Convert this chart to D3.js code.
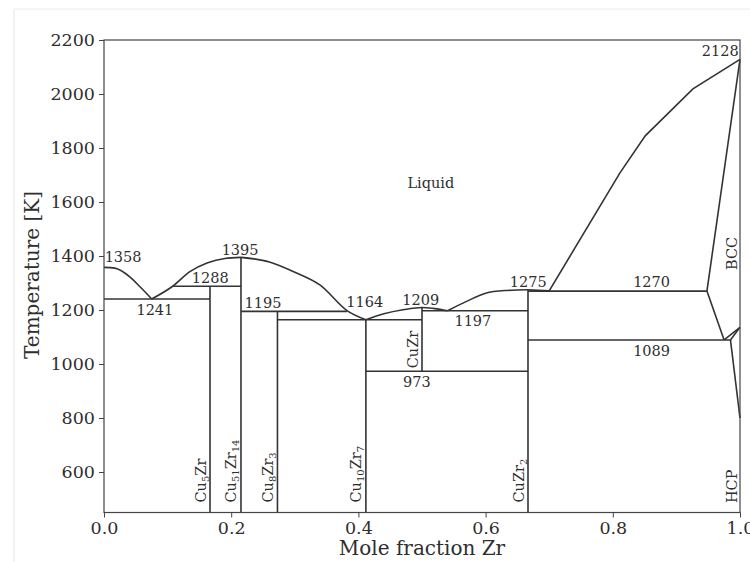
<!DOCTYPE html>
<html><head><meta charset="utf-8">
<script src="https://cdn.jsdelivr.net/npm/d3@7"></script>
<style>
html,body{margin:0;padding:0;background:#fff;}
svg{display:block;}
text{font-family:"DejaVu Serif",serif;fill:#2e2e2e;}
</style></head>
<body>
<svg id="chart" width="750" height="562"></svg>
<script>
// ---------------- data ----------------
const xTicks = [0.0, 0.2, 0.4, 0.6, 0.8, 1.0];
const yTicks = [600, 800, 1000, 1200, 1400, 1600, 1800, 2000, 2200];
const xDomain = [0, 1];
const yDomain = [450, 2200];

// liquidus branches [x, T]
const liquidusCu = [[0,1358],[0.017,1355],[0.041,1322],[0.057,1285],[0.075,1241]];
const liquidusCu51 = [[0.075,1241],[0.108,1288],[0.135,1342],[0.162,1374],[0.19,1391],[0.2154,1395]];
const liquidusDown = [[0.2154,1395],[0.26,1378],[0.30,1340],[0.34,1292],[0.382,1198],[0.4118,1164]];
const liquidusCuZr = [[0.4118,1164],[0.44,1186],[0.47,1201],[0.5,1209]];
const liquidusEut = [[0.5,1209],[0.52,1205],[0.54,1197]];
const liquidusCuZr2 = [[0.54,1197],[0.57,1232],[0.6,1262],[0.63,1272],[0.6667,1275]];
const liquidusZr = [[0.6667,1275],[0.70,1271],[0.811,1707],[0.851,1845],[0.926,2019],[1.0,2128]];

// compounds: composition, top temperature, name parts [text, isSub]
const compounds = [
  {name:"Cu5Zr",    x:1/6,   top:1288, bottom:450, parts:[["Cu",0],["5",1],["Zr",0]]},
  {name:"Cu51Zr14", x:14/65, top:1395, bottom:450, parts:[["Cu",0],["51",1],["Zr",0],["14",1]]},
  {name:"Cu8Zr3",   x:3/11,  top:1195, bottom:450, parts:[["Cu",0],["8",1],["Zr",0],["3",1]]},
  {name:"Cu10Zr7",  x:7/17,  top:1164, bottom:450, parts:[["Cu",0],["10",1],["Zr",0],["7",1]]},
  {name:"CuZr",     x:0.5,   top:1209, bottom:973, parts:[["CuZr",0]]},
  {name:"CuZr2",    x:2/3,   top:1275, bottom:450, parts:[["CuZr",0],["2",1]]}
];

// invariant (horizontal) lines
const invariants = [
  {T:1241, x0:0,     x1:1/6},
  {T:1288, x0:0.108, x1:14/65},
  {T:1195, x0:14/65, x1:0.382},
  {T:1164, x0:3/11,  x1:0.5},
  {T:1197, x0:0.5,   x1:2/3},
  {T:973,  x0:7/17,  x1:2/3},
  {T:1270, x0:2/3,   x1:0.948},
  {T:1089, x0:2/3,   x1:0.985}
];

// Zr-rich solid boundaries
const zrBoundaries = [
  [[0.948,1270],[1.0,2128]],
  [[0.948,1270],[0.975,1089]],
  [[0.975,1089],[1.0,1136]],
  [[0.985,1089],[1.0,1136]],
  [[0.985,1089],[1.0,800]]
];

// temperature annotations [label, x, T] (data coords, centre)
const tempLabels = [
  ["1358",0.030,1396],["1241",0.080,1202],["1288",0.167,1319],["1395",0.214,1422],
  ["1195",0.250,1226],["1164",0.410,1230],["1209",0.498,1237],["1197",0.580,1159],
  ["973",0.492,933],["1275",0.667,1304],["1270",0.861,1304],["1089",0.861,1048],
  ["2128",0.969,2159]
];
const phaseLabels = [["Liquid",0.514,1670]];
const sidePhases = [["BCC",1.0,1348],["HCP",1.0,485]];

// ---------------- drawing ----------------
const svg = d3.select("#chart");
const W = 750, H = 562;
const m = {left:104, right:10, top:40, bottom:49.5};
const x = d3.scaleLinear().domain(xDomain).range([m.left, W - m.right]);
const y = d3.scaleLinear().domain(yDomain).range([H - m.bottom, m.top]);

// faint screenshot frame
svg.append("line").attr("x1",14).attr("x2",14).attr("y1",9).attr("y2",H)
  .attr("stroke","#e4e4e4").attr("stroke-width",1);
svg.append("line").attr("x1",14).attr("x2",W).attr("y1",9).attr("y2",9)
  .attr("stroke","#ececec").attr("stroke-width",1);

const ink = "#333";
const g = svg.append("g");

const smooth = d3.line().x(d=>x(d[0])).y(d=>y(d[1])).curve(d3.curveMonotoneX);
const straight = d3.line().x(d=>x(d[0])).y(d=>y(d[1]));

[liquidusCu, liquidusCu51, liquidusDown, liquidusCuZr, liquidusEut, liquidusCuZr2].forEach(s=>{
  g.append("path").attr("d", smooth(s)).attr("fill","none").attr("stroke",ink).attr("stroke-width",1.6);
});
g.append("path").attr("d", straight(liquidusZr)).attr("fill","none").attr("stroke",ink).attr("stroke-width",1.6);

invariants.forEach(l=>{
  g.append("line").attr("x1",x(l.x0)).attr("x2",x(l.x1)).attr("y1",y(l.T)).attr("y2",y(l.T))
    .attr("stroke",ink).attr("stroke-width",1.6);
});
compounds.forEach(c=>{
  g.append("line").attr("x1",x(c.x)).attr("x2",x(c.x)).attr("y1",y(c.top)).attr("y2",y(c.bottom))
    .attr("stroke",ink).attr("stroke-width",1.6);
});
zrBoundaries.forEach(s=>{
  g.append("path").attr("d", straight(s)).attr("fill","none").attr("stroke",ink).attr("stroke-width",1.6);
});

// compound labels (rotated)
compounds.forEach(c=>{
  const bx = x(c.x) - 4.5;
  const by = (c.bottom > 450 ? y(c.bottom) - 3 : y(450) - 10);
  const t = g.append("text").attr("transform",`translate(${bx},${by}) rotate(-90)`)
    .attr("font-size",14.5).attr("text-anchor","start");
  let shifted = false;
  c.parts.forEach(p=>{
    const ts = t.append("tspan").text(p[0]);
    if (p[1]) { ts.attr("font-size",10).attr("dy", 3); shifted = true; }
    else if (shifted) { ts.attr("dy",-3); shifted = false; }
  });
});

// side phases
sidePhases.forEach(p=>{
  g.append("text").attr("transform",`translate(${x(p[1]) - 3},${y(p[2])}) rotate(-90)`)
    .attr("font-size",14.5).attr("text-anchor","start").text(p[0]);
});

tempLabels.forEach(l=>{
  g.append("text").attr("x",x(l[1])).attr("y",y(l[2])).attr("dy","0.36em")
    .attr("text-anchor","middle").attr("font-size",14.5).text(l[0]);
});
phaseLabels.forEach(l=>{
  g.append("text").attr("x",x(l[1])).attr("y",y(l[2])).attr("dy","0.36em")
    .attr("text-anchor","middle").attr("font-size",14.5).text(l[0]);
});

// frame
svg.append("rect").attr("x",m.left).attr("y",m.top)
  .attr("width",W - m.right - m.left).attr("height",H - m.bottom - m.top)
  .attr("fill","none").attr("stroke","#444").attr("stroke-width",1.2);

// axes
const xAxis = svg.append("g").attr("transform",`translate(0,${H - m.bottom})`)
  .call(d3.axisBottom(x).tickValues(xTicks).tickFormat(d3.format(".1f")).tickSize(5).tickPadding(4));
const yAxis = svg.append("g").attr("transform",`translate(${m.left},0)`)
  .call(d3.axisLeft(y).tickValues(yTicks).tickFormat(d3.format("d")).tickSize(5).tickPadding(4));
[xAxis,yAxis].forEach(a=>{
  a.select(".domain").remove();
  a.selectAll(".tick line").attr("stroke","#444").attr("stroke-width",1);
  a.selectAll(".tick text").attr("font-family","DejaVu Serif").attr("font-size",17.5).attr("fill","#2e2e2e");
});

svg.append("text").attr("x",422).attr("y",555).attr("text-anchor","middle")
  .attr("font-size",20).text("Mole fraction Zr");
svg.append("text").attr("transform","translate(39,275) rotate(-90)").attr("text-anchor","middle")
  .attr("font-size",20).text("Temperature [K]");
</script>
</body></html>
